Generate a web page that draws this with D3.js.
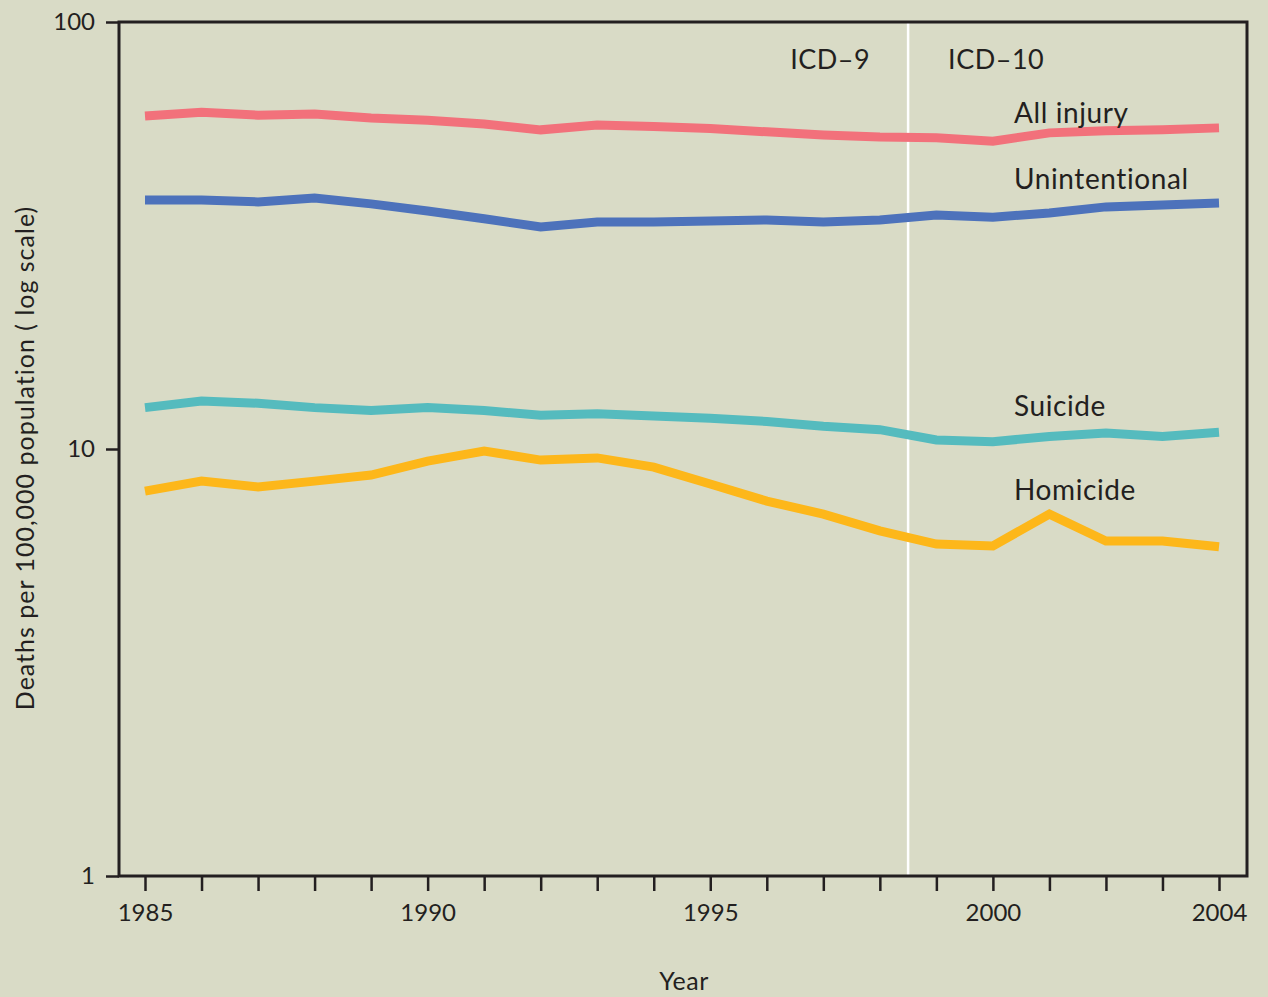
<!DOCTYPE html>
<html lang="en">
<head>
    <meta charset="UTF-8">
    <title>Injury deaths, log scale</title>
    <script src="https://cdn.jsdelivr.net/npm/d3@7/dist/d3.min.js"></script>
    <style>
        body { margin: 0; background: #d9dbc6; }
        svg { display: block; }
        text { font-family: Lato, "Noto Sans", sans-serif; fill: #231f20; }
    </style>
</head>
<body>
<script>
    // data
    const years = d3.range(1985, 2005);
    const allInjury = [60.2, 61.5, 60.5, 60.9, 59.6, 58.9, 57.7, 55.9, 57.4, 56.9,
                       56.3, 55.3, 54.4, 53.8, 53.6, 52.6, 55.0, 55.6, 55.9, 56.5];
    const unintentional = [38.3, 38.3, 37.9, 38.7, 37.5, 36.1, 34.6, 33.1, 34.0, 34.0,
                           34.2, 34.4, 34.0, 34.4, 35.3, 34.9, 35.7, 36.9, 37.3, 37.7];
    const suicide = [12.5, 12.95, 12.8, 12.5, 12.3, 12.5, 12.3, 12.0, 12.1, 11.95,
                     11.8, 11.6, 11.3, 11.1, 10.5, 10.4, 10.7, 10.9, 10.7, 10.95];
    const homicide = [7.97, 8.41, 8.15, 8.41, 8.69, 9.37, 9.89, 9.42, 9.53, 9.07,
                      8.28, 7.55, 7.04, 6.43, 5.99, 5.93, 7.04, 6.09, 6.09, 5.90];
    const yTicks = [1, 10, 100];
    const xLabels = [1985, 1990, 1995, 2000, 2004];
    const icdBreak = 1998.5;

    const series = [
        { name: 'All injury', values: allInjury, color: '#f2717b', ly: 113 },
        { name: 'Unintentional', values: unintentional, color: '#4d72bb', ly: 179 },
        { name: 'Suicide', values: suicide, color: '#55bbbe', ly: 406 },
        { name: 'Homicide', values: homicide, color: '#fdb71a', ly: 490 }
    ];

    const width = 1268;
    const height = 997;
    const box = { left: 119, right: 1247, top: 22, bottom: 876 };

    const svg = d3.select('body')
        .append('svg')
        .attr('width', width)
        .attr('height', height);

    const x = d3.scaleLinear()
        .domain([1985, 2004])
        .range([145, 1219]);

    const y = d3.scaleLog()
        .domain([1, 100])
        .range([box.bottom, box.top]);

    // icd break line
    svg.append('line')
        .attr('x1', x(icdBreak)).attr('x2', x(icdBreak))
        .attr('y1', box.top).attr('y2', box.bottom)
        .attr('stroke', '#ffffff')
        .attr('stroke-width', 2.5);

    svg.append('text')
        .attr('x', x(icdBreak) - 38)
        .attr('y', 69)
        .attr('text-anchor', 'end')
        .style('font-size', '27px')
        .style('letter-spacing', '0.5px')
        .text('ICD–9');

    svg.append('text')
        .attr('x', x(icdBreak) + 40)
        .attr('y', 69)
        .style('font-size', '27px')
        .style('letter-spacing', '0.5px')
        .text('ICD–10');

    // lines
    const line = d3.line()
        .x((d, i) => x(years[i]))
        .y(d => y(d));

    svg.append('g')
        .selectAll('path')
        .data(series)
        .enter()
        .append('path')
        .attr('d', d => line(d.values))
        .attr('fill', 'none')
        .attr('stroke', d => d.color)
        .attr('stroke-width', 9)
        .attr('stroke-linejoin', 'miter');

    svg.append('g')
        .selectAll('text')
        .data(series)
        .enter()
        .append('text')
        .attr('x', 1014)
        .attr('y', d => d.ly)
        .attr('dy', '0.35em')
        .style('font-size', '28px')
        .style('letter-spacing', '0.6px')
        .text(d => d.name);

    // frame
    svg.append('rect')
        .attr('x', box.left)
        .attr('y', box.top)
        .attr('width', box.right - box.left)
        .attr('height', box.bottom - box.top)
        .attr('fill', 'none')
        .attr('stroke', '#231f20')
        .attr('stroke-width', 3);

    // x axis
    const xAxis = d3.axisBottom(x)
        .tickValues(years)
        .tickSize(15)
        .tickPadding(13)
        .tickFormat(d => xLabels.includes(d) ? d : '');

    const gx = svg.append('g')
        .attr('transform', 'translate(0,' + box.bottom + ')')
        .call(xAxis);
    gx.select('.domain').remove();
    gx.selectAll('.tick line').attr('stroke', '#231f20').attr('stroke-width', 2.5);
    gx.selectAll('.tick text')
        .style('font-size', '24px')
        .style('font-family', 'Lato, "Noto Sans", sans-serif')
        .attr('fill', '#231f20');

    // y axis
    const yAxis = d3.axisLeft(y)
        .tickValues(yTicks)
        .tickSize(13)
        .tickPadding(11)
        .tickFormat(d3.format('d'));

    const gy = svg.append('g')
        .attr('transform', 'translate(' + box.left + ',0)')
        .call(yAxis);
    gy.select('.domain').remove();
    gy.selectAll('.tick line').attr('stroke', '#231f20').attr('stroke-width', 2.5);
    gy.selectAll('.tick text')
        .style('font-size', '24px')
        .style('font-family', 'Lato, "Noto Sans", sans-serif')
        .attr('fill', '#231f20');

    // axis titles
    svg.append('text')
        .attr('x', 684)
        .attr('y', 990)
        .attr('text-anchor', 'middle')
        .style('font-size', '25px')
        .style('letter-spacing', '0.5px')
        .text('Year');

    svg.append('text')
        .attr('transform', 'translate(34,458) rotate(-90)')
        .attr('text-anchor', 'middle')
        .style('font-size', '25px')
        .style('letter-spacing', '1px')
        .text('Deaths per 100,000 population ( log scale)');
</script>
</body>
</html>
